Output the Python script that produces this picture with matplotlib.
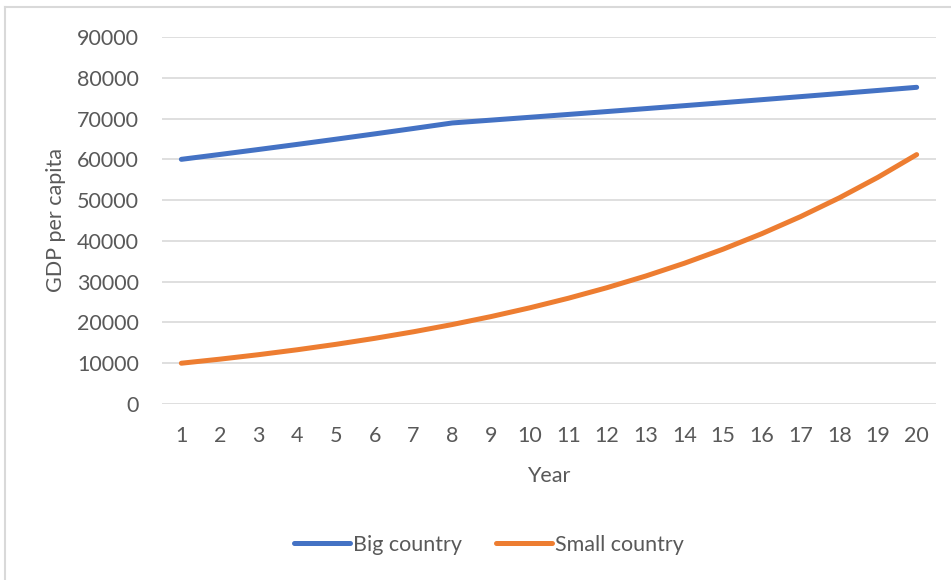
import matplotlib
matplotlib.use("Agg")
import matplotlib.pyplot as plt
from matplotlib.lines import Line2D

years = list(range(1, 21))
big_country = [60000, 61200, 62424, 63672, 64946, 66245, 67570, 68921, 69611, 70307,
               71010, 71720, 72437, 73161, 73893, 74632, 75378, 76132, 76893, 77662]
small_country = [10000, 11000, 12100, 13310, 14641, 16105, 17716, 19487, 21436, 23579,
                 25937, 28531, 31384, 34523, 37975, 41772, 45950, 50545, 55599, 61159]
y_ticks = [0, 10000, 20000, 30000, 40000, 50000, 60000, 70000, 80000, 90000]

W, H = 951, 580
fig = plt.figure(figsize=(W / 100, H / 100), dpi=100)
plt.rcParams['font.family'] = ['Lato', 'DejaVu Sans']
txt = '#595959'
fs = 15.5

# axes: x 162..936, y 37..404 (pixels)
ax = fig.add_axes([162 / W, 1 - 404 / H, (936 - 162) / W, (404 - 37) / H])
ax.plot(years, big_country, color='#4472C4', lw=3.6, solid_capstyle='round', label='Big country')
ax.plot(years, small_country, color='#ED7D31', lw=3.6, solid_capstyle='round', label='Small country')
ax.set_xlim(0.5, 20.5)
ax.set_ylim(0, 90000)
ax.set_yticks(y_ticks)
ax.set_yticklabels([str(v) for v in y_ticks])
ax.set_xticks(years)
ax.set_xticklabels([str(y) for y in years])
ax.grid(axis='y', color='#D9D9D9', lw=1.2)
ax.set_axisbelow(True)
for s in ax.spines.values():
    s.set_visible(False)
ax.tick_params(length=0, colors=txt, labelsize=fs)
ax.tick_params(axis='y', pad=16.5)
ax.tick_params(axis='x', pad=16)
ax.set_xlabel('Year', color=txt, fontsize=fs, labelpad=14)
ax.set_ylabel('GDP per capita', color=txt, fontsize=fs, labelpad=8)

handles = [Line2D([], [], color='#4472C4', lw=3.6, solid_capstyle='round'),
           Line2D([], [], color='#ED7D31', lw=3.6, solid_capstyle='round')]
fig.legend(handles, ['Big country', 'Small country'], loc='center',
           bbox_to_anchor=(489 / W, 1 - 545 / H), ncol=2, frameon=False,
           fontsize=fs, labelcolor=txt, handlelength=2.6, handletextpad=0.15,
           columnspacing=1.6)

# chart border (top and left visible)
fig.add_artist(Line2D([5 / W, 1], [1 - 7 / H, 1 - 7 / H], color='#D9D9D9', lw=1.5, transform=fig.transFigure))
fig.add_artist(Line2D([5 / W, 5 / W], [0, 1 - 7 / H], color='#D9D9D9', lw=1.5, transform=fig.transFigure))

fig.savefig('out.png', dpi=100, facecolor='white')
